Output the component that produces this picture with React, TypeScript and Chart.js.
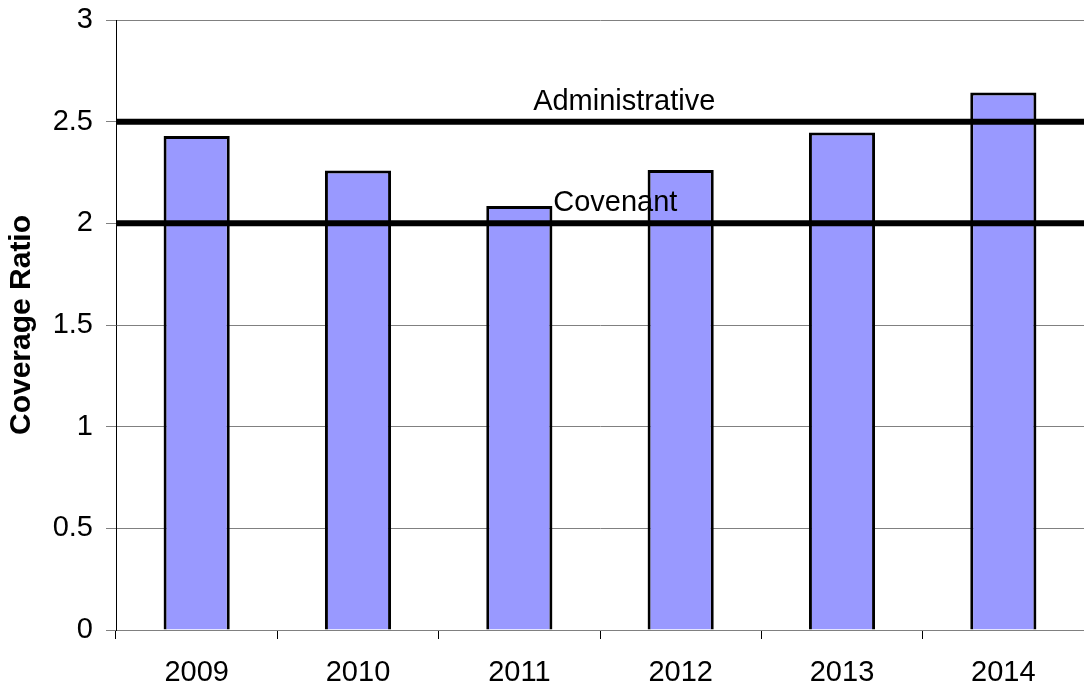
import React, { useEffect, useRef } from "react";
import { Chart, registerables } from "chart.js";

Chart.register(...registerables);

const categories = ["2009", "2010", "2011", "2012", "2013", "2014"];
const coverageRatio = [2.43, 2.26, 2.085, 2.262, 2.447, 2.644];
const yTicks = [0, 0.5, 1, 1.5, 2, 2.5, 3];
const referenceLevels = [2.5, 2.0];
const referenceLabels = ["Administrative", "Covenant"];
// label anchor along category axis (fractional category index) and alignment
const referenceLabelAt = [2.65, 2.21];
const referenceLabelAlign: CanvasTextAlign[] = ["center", "left"];

const FONT = "'Liberation Sans', Arial, Helvetica, sans-serif";

const refLinesPlugin = {
  id: "refLines",
  afterDatasetsDraw(chart: any) {
    const { ctx, chartArea, scales } = chart;
    const y = scales.y;
    const x = scales.x;
    ctx.save();
    referenceLevels.forEach((lvl, i) => {
      const py = y.getPixelForValue(lvl);
      ctx.beginPath();
      ctx.strokeStyle = "#000000";
      ctx.lineWidth = 6;
      ctx.moveTo(chartArea.left, py);
      ctx.lineTo(chartArea.right, py);
      ctx.stroke();
      ctx.fillStyle = "#000000";
      ctx.font = `29px ${FONT}`;
      ctx.textAlign = referenceLabelAlign[i];
      ctx.textBaseline = "alphabetic";
      ctx.fillText(referenceLabels[i], x.getPixelForValue(referenceLabelAt[i]), py - 12);
    });
    ctx.restore();
  },
};

export default function App() {
  const canvasRef = useRef<HTMLCanvasElement | null>(null);

  useEffect(() => {
    if (!canvasRef.current) return;
    const chart = new Chart(canvasRef.current, {
      type: "bar",
      data: {
        labels: categories,
        datasets: [
          {
            label: "Coverage Ratio",
            data: coverageRatio,
            backgroundColor: "#9999FF",
            borderColor: "#000000",
            borderWidth: 3,
            categoryPercentage: 0.41,
            barPercentage: 1,
          },
        ],
      },
      options: {
        responsive: false,
        animation: false,
        layout: { padding: { top: 20, left: 0, right: 0, bottom: 0 } },
        plugins: {
          legend: { display: false },
          tooltip: { enabled: false },
          title: { display: false },
        },
        scales: {
          x: {
            grid: {
              drawOnChartArea: false,
              drawTicks: true,
              tickLength: 9,
              color: "#000000",
              offset: true,
            },
            border: { display: true, color: "#808080", width: 1 },
            ticks: {
              color: "#000000",
              font: { family: FONT, size: 29 },
              padding: 17,
              maxRotation: 0,
            },
            afterFit(scale: any) {
              scale.height = 55;
              scale.paddingLeft = 0;
              scale.paddingRight = 0;
            },
          },
          y: {
            min: 0,
            max: 3,
            afterBuildTicks(scale: any) {
              scale.ticks = yTicks.map((v) => ({ value: v }));
            },
            grid: {
              color: "#808080",
              lineWidth: 1,
              tickLength: 10,
            },
            border: { display: true, color: "#000000", width: 1 },
            ticks: {
              color: "#000000",
              font: { family: FONT, size: 29 },
              padding: 13,
              callback: (v: any) => String(v),
            },
            title: {
              display: true,
              text: "Coverage Ratio",
              color: "#000000",
              font: { family: FONT, size: 30, weight: "bold" },
              padding: { top: 4, bottom: 0 },
            },
            afterFit(scale: any) {
              scale.width = 116;
              scale.paddingTop = 0;
              scale.paddingBottom = 0;
            },
          },
        },
      },
      plugins: [refLinesPlugin],
    });
    return () => chart.destroy();
  }, []);

  return (
    <div style={{ position: "absolute", left: 0, top: 0, width: 1084, height: 685, background: "#ffffff" }}>
      <canvas ref={canvasRef} width={1084} height={685} style={{ display: "block" }} />
    </div>
  );
}
